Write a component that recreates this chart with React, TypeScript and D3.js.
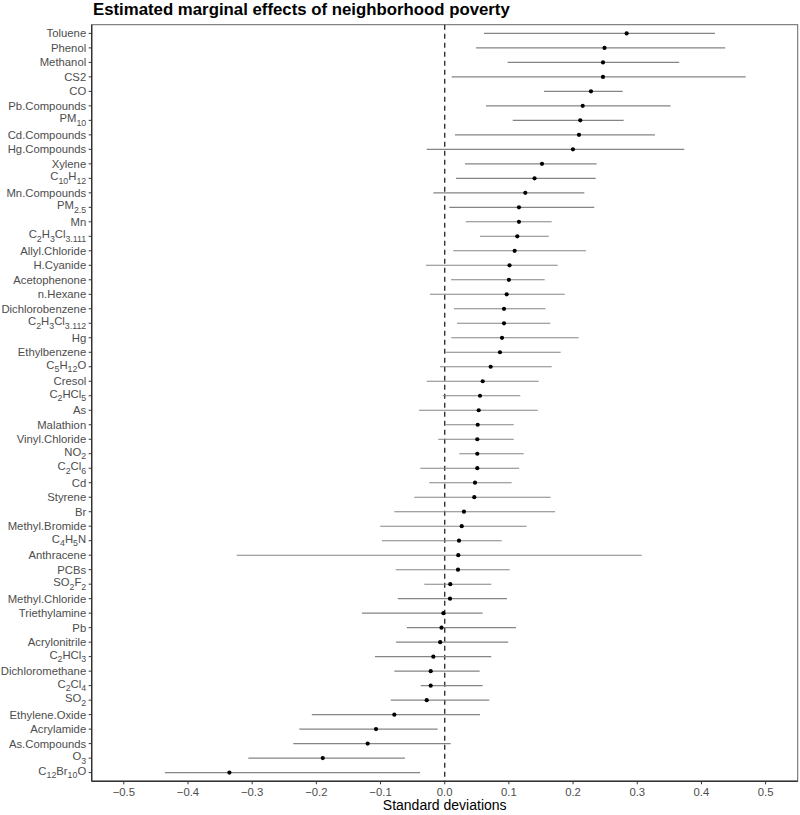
import React from "react";
import * as d3 from "d3";

const labels = [
  "Toluene", "Phenol", "Methanol", "CS2", "CO", "Pb.Compounds", "PM_{10}", "Cd.Compounds",
  "Hg.Compounds", "Xylene", "C_{10}H_{12}", "Mn.Compounds", "PM_{2.5}", "Mn", "C_{2}H_{3}Cl_{3.111}",
  "Allyl.Chloride", "H.Cyanide", "Acetophenone", "n.Hexane", "Dichlorobenzene", "C_{2}H_{3}Cl_{3.112}",
  "Hg", "Ethylbenzene", "C_{5}H_{12}O", "Cresol", "C_{2}HCl_{5}", "As", "Malathion", "Vinyl.Chloride",
  "NO_{2}", "C_{2}Cl_{6}", "Cd", "Styrene", "Br", "Methyl.Bromide", "C_{4}H_{5}N", "Anthracene", "PCBs",
  "SO_{2}F_{2}", "Methyl.Chloride", "Triethylamine", "Pb", "Acrylonitrile", "C_{2}HCl_{3}",
  "Dichloromethane", "C_{2}Cl_{4}", "SO_{2}", "Ethylene.Oxide", "Acrylamide", "As.Compounds", "O_{3}",
  "C_{12}Br_{10}O",
];

const estimates = [
  0.2835, 0.249, 0.2466, 0.2466, 0.2279, 0.215, 0.2112, 0.2092,
  0.1998, 0.1516, 0.140, 0.1256, 0.1157, 0.1157, 0.1131,
  0.109, 0.101, 0.100, 0.0966, 0.0924, 0.0924,
  0.0893, 0.0861, 0.0716, 0.0592, 0.055, 0.053, 0.0514, 0.0508,
  0.0508, 0.0508, 0.0472, 0.0461, 0.030, 0.0265, 0.0223, 0.0212, 0.0207,
  0.0087, 0.0083, -0.002, -0.005, -0.007, -0.0177,
  -0.0218, -0.0218, -0.028, -0.0785, -0.107, -0.12, -0.19,
  -0.3355,
];

const lower = [
  0.0612, 0.0488, 0.098, 0.0109, 0.1547, 0.0643, 0.106, 0.016,
  -0.028, 0.0316, 0.0176, -0.0177, 0.0072, 0.0327, 0.055,
  0.0134, -0.029, 0.0098, -0.023, 0.0145, 0.0192,
  0.0103, 0.001, -0.0073, -0.028, -0.003, -0.040, 0.001, -0.010,
  0.0228, -0.038, -0.024, -0.0473, -0.0785, -0.1003, -0.0977, -0.324, -0.0763,
  -0.0318, -0.073, -0.129, -0.059, -0.076, -0.1086,
  -0.0785, -0.0374, -0.084, -0.207, -0.2265, -0.236, -0.306,
  -0.436,
];

const upper = [
  0.421, 0.437, 0.3654, 0.469, 0.2773, 0.352, 0.2788, 0.3276,
  0.3732, 0.2368, 0.2352, 0.2175, 0.233, 0.1667, 0.162,
  0.220, 0.176, 0.1558, 0.187, 0.157, 0.1645,
  0.2087, 0.1807, 0.1667, 0.1464, 0.1178, 0.1449, 0.1075, 0.1075,
  0.123, 0.116, 0.1043, 0.165, 0.172, 0.1277, 0.0888, 0.307, 0.1012,
  0.0726, 0.097, 0.059, 0.111, 0.099, 0.0726,
  0.0545, 0.059, 0.0695, 0.055, -0.011, 0.0093, -0.062,
  -0.0385,
];

const xTicks = [-0.5, -0.4, -0.3, -0.2, -0.1, 0, 0.1, 0.2, 0.3, 0.4, 0.5];

const title = "Estimated marginal effects of neighborhood poverty";
const xTitle = "Standard deviations";

const W = 800;
const H = 815;
const panel = { left: 91.7, right: 797.7, top: 24.7, bottom: 781.3 };
const FONT = "'Liberation Sans', Arial, Helvetica, sans-serif";
const LABEL_SIZE = 11.3;

function parseLabel(s: string) {
  const parts: { text: string; sub: boolean }[] = [];
  const re = /_\{([^}]*)\}/g;
  let last = 0;
  let m;
  while ((m = re.exec(s)) !== null) {
    if (m.index > last) parts.push({ text: s.slice(last, m.index), sub: false });
    parts.push({ text: m[1], sub: true });
    last = m.index + m[0].length;
  }
  if (last < s.length) parts.push({ text: s.slice(last), sub: false });
  return parts;
}

function Label({ s, x, y }: { s: string; x: number; y: number }) {
  const parts = parseLabel(s);
  const hasSub = parts.some((p) => p.sub);
  const base = y + 4 - (hasSub ? 2 : 0);
  let cur = 0;
  return (
    <text x={x} y={base} textAnchor="end" fontSize={LABEL_SIZE} fill="#4D4D4D" fontFamily={FONT}>
      {parts.map((p, i) => {
        const target = p.sub ? 3.7 : 0;
        const dy = target - cur;
        cur = target;
        return (
          <tspan key={i} dy={dy} fontSize={p.sub ? 8.8 : LABEL_SIZE}>
            {p.text}
          </tspan>
        );
      })}
    </text>
  );
}

export default function App() {
  const x = d3.scaleLinear().domain([-0.55, 0.55]).range([panel.left, panel.right]);
  const y = d3
    .scalePoint<string>()
    .domain(labels)
    .range([panel.top, panel.bottom])
    .padding(0.6);

  const fmt = (v: number) => {
    const s = d3.format(".1f")(Math.abs(v));
    return v < 0 ? "\u2212" + s : s;
  };

  return (
    <svg
      width={W}
      height={H}
      style={{ position: "absolute", left: 0, top: 0, display: "block", background: "#fff" }}
    >
      <rect x={0} y={0} width={W} height={H} fill="#fff" />
      <text x={93} y={15} fontSize={16.8} fontWeight="bold" fill="#000" fontFamily={FONT}>
        {title}
      </text>

      <rect
        x={panel.left}
        y={panel.top}
        width={panel.right - panel.left}
        height={panel.bottom - panel.top}
        fill="none"
        stroke="#666"
        strokeWidth={1}
      />
      <line x1={panel.left} x2={panel.left} y1={panel.top} y2={panel.bottom} stroke="#333" strokeWidth={1.4} />
      <line x1={panel.left} x2={panel.right} y1={panel.bottom} y2={panel.bottom} stroke="#333" strokeWidth={1.4} />

      <line
        x1={x(0)}
        x2={x(0)}
        y1={panel.top}
        y2={panel.bottom}
        stroke="#333"
        strokeWidth={1.4}
        strokeDasharray="5,4"
      />

      {labels.map((l, i) => (
        <line
          key={"e" + i}
          x1={x(lower[i])}
          x2={x(upper[i])}
          y1={y(l)!}
          y2={y(l)!}
          stroke="#858585"
          strokeWidth={1.1}
        />
      ))}
      {labels.map((l, i) => (
        <circle key={"p" + i} cx={x(estimates[i])} cy={y(l)!} r={2.1} fill="#000" />
      ))}

      {labels.map((l, i) => (
        <g key={"y" + i}>
          <line x1={panel.left - 3} x2={panel.left} y1={y(l)!} y2={y(l)!} stroke="#333" strokeWidth={1} />
          <Label s={l} x={panel.left - 5.5} y={y(l)!} />
        </g>
      ))}

      {xTicks.map((t, i) => (
        <g key={"x" + i}>
          <line x1={x(t)} x2={x(t)} y1={panel.bottom} y2={panel.bottom + 3} stroke="#333" strokeWidth={1} />
          <text
            x={x(t)}
            y={panel.bottom + 15}
            textAnchor="middle"
            fontSize={LABEL_SIZE}
            fill="#4D4D4D"
            fontFamily={FONT}
          >
            {fmt(t)}
          </text>
        </g>
      ))}
      <text
        x={(panel.left + panel.right) / 2}
        y={810}
        textAnchor="middle"
        fontSize={14}
        fill="#000"
        fontFamily={FONT}
      >
        {xTitle}
      </text>
    </svg>
  );
}
